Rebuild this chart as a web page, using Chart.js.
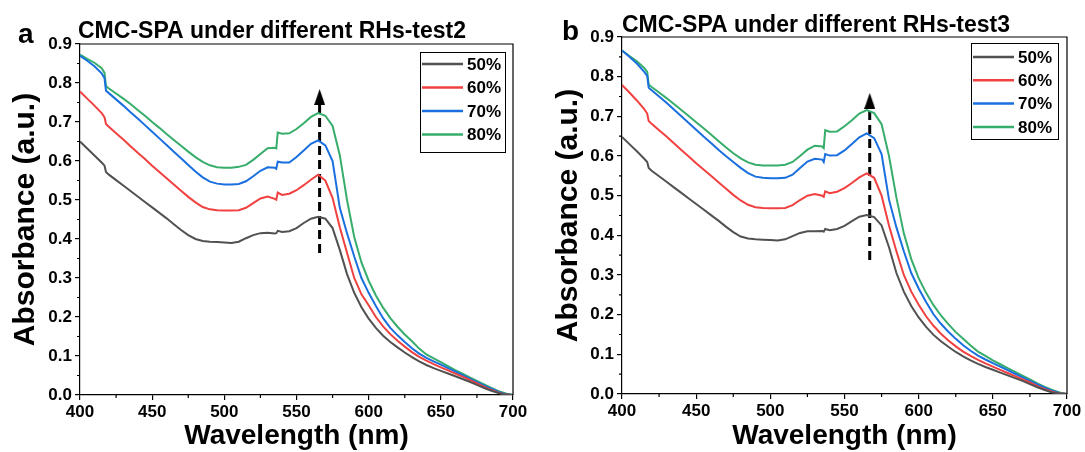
<!DOCTYPE html>
<html>
<head>
<meta charset="utf-8">
<title>CMC-SPA under different RHs</title>
<script src="https://cdn.jsdelivr.net/npm/chart.js@4.4.0/dist/chart.umd.min.js"></script>
<style>
  html, body { margin: 0; padding: 0; background: #fff; }
  #wrap { position: relative; width: 1085px; height: 452px; overflow: hidden; }
  #chartA { position: absolute; left: 0; top: 0; }
  #chartB { position: absolute; left: 545px; top: 0; }
</style>
</head>
<body>
<div id="wrap">
  <canvas id="chartA" width="545" height="452"></canvas>
  <canvas id="chartB" width="540" height="452"></canvas>
</div>
<script>
const wavelengths = [400, 405, 410, 415, 417, 418, 420, 425, 430, 435, 440, 445, 450, 455, 460, 465, 470, 475, 480, 485,
  490, 495, 500, 505, 510, 515, 520, 525, 530, 535, 536, 537, 540, 545, 550, 555, 560, 565, 570, 575, 580, 585, 590, 595,
  600, 605, 610, 615, 620, 625, 630, 635, 640, 645, 650, 655, 660, 665, 670, 675, 680, 685, 690, 695, 700];

const seriesLabels = ["50%", "60%", "70%", "80%"];
const seriesColors = ["#515151", "#f14040", "#1a6fdf", "#37ad6b"];

// test2 (panel a)
const test2_50 = [.650, .632, .614, .596, .588, .572, .565, .551, .537, .523, .509, .495, .481, .467, .453, .438, .423, .410, .400, .395,
  .393, .392, .391, .390, .393, .402, .410, .415, .416, .414, .415, .421, .418, .420, .428, .441, .452, .457, .452, .428, .372, .310, .262, .225,
  .196, .172, .152, .136, .122, .109, .097, .086, .077, .069, .062, .055, .048, .041, .034, .026, .018, .011, .005, .001, 0];
const test2_60 = [.778, .760, .742, .723, .712, .695, .688, .671, .655, .638, .621, .605, .588, .572, .556, .540, .524, .508, .494, .482,
  .476, .474, .473, .473, .474, .480, .492, .504, .509, .503, .501, .519, .513, .516, .525, .538, .552, .565, .550, .505, .430, .365, .300, .258,
  .230, .200, .176, .156, .139, .124, .110, .098, .088, .079, .071, .063, .055, .047, .039, .030, .021, .013, .006, .001, 0];
const test2_70 = [.870, .857, .843, .825, .812, .780, .774, .758, .742, .725, .709, .692, .675, .658, .641, .624, .607, .590, .573, .558,
  .547, .542, .540, .540, .541, .548, .561, .575, .584, .583, .580, .598, .596, .596, .610, .627, .644, .653, .640, .600, .480, .415, .355, .300,
  .262, .228, .197, .172, .153, .136, .120, .106, .095, .086, .078, .069, .060, .051, .042, .033, .024, .016, .008, .002, 0];
const test2_80 = [.873, .862, .852, .838, .826, .792, .786, .773, .760, .746, .731, .716, .700, .685, .669, .654, .639, .624, .610, .598,
  .589, .584, .583, .583, .585, .590, .603, .618, .633, .634, .632, .673, .670, .671, .682, .697, .713, .723, .716, .690, .615, .500, .405, .340,
  .293, .255, .224, .197, .175, .155, .138, .119, .104, .094, .084, .074, .064, .055, .045, .036, .027, .018, .010, .004, 0];

// test3 (panel b)
const test3_50 = [.648, .630, .612, .593, .585, .570, .563, .549, .535, .521, .507, .493, .479, .465, .451, .437, .422, .408, .397, .392,
  .390, .389, .388, .387, .390, .398, .406, .410, .410, .411, .409, .416, .413, .416, .424, .436, .447, .451, .446, .425, .370, .305, .258, .222,
  .193, .169, .149, .133, .119, .106, .095, .085, .076, .068, .061, .054, .047, .040, .033, .025, .017, .010, .004, .001, 0];
const test3_60 = [.779, .760, .740, .718, .707, .688, .681, .665, .649, .632, .615, .599, .582, .566, .550, .534, .518, .502, .488, .477,
  .471, .469, .468, .468, .469, .476, .489, .500, .504, .500, .497, .511, .506, .510, .519, .532, .546, .556, .545, .500, .425, .360, .300, .258,
  .225, .196, .172, .152, .135, .120, .107, .096, .086, .077, .069, .061, .053, .045, .037, .029, .020, .012, .006, .001, 0];
const test3_70 = [.866, .850, .833, .812, .802, .772, .766, .750, .734, .717, .700, .683, .666, .649, .633, .616, .600, .585, .570, .557,
  .548, .545, .544, .544, .545, .553, .570, .586, .593, .591, .585, .605, .601, .602, .614, .630, .647, .657, .645, .605, .490, .420, .360, .305,
  .266, .232, .201, .177, .157, .139, .123, .109, .097, .087, .078, .069, .060, .051, .042, .033, .024, .016, .008, .002, 0];
const test3_80 = [.866, .852, .839, .822, .812, .780, .774, .760, .746, .731, .716, .701, .685, .670, .654, .638, .622, .607, .594, .584,
  .578, .576, .576, .576, .578, .585, .600, .616, .626, .624, .620, .665, .661, .662, .675, .690, .707, .716, .708, .680, .600, .495, .405, .340,
  .292, .255, .224, .198, .176, .156, .139, .122, .107, .096, .085, .075, .065, .056, .046, .037, .027, .018, .010, .004, 0];

// dashed arrows: wavelength, bottom and top absorbance
const arrowTest2 = [566, 0.364, 0.764];
const arrowTest3 = [567, 0.338, 0.739];

const FONT = "'Liberation Sans', Arial, Helvetica, sans-serif";
Chart.defaults.font.family = FONT;
Chart.defaults.color = "#000";

// narrow arrow head used as the point style at the top of the arrow line
const arrowHead = document.createElement("canvas");
arrowHead.width = 11;
arrowHead.height = 16;
(function () {
  const c = arrowHead.getContext("2d");
  c.fillStyle = "#000";
  c.beginPath();
  c.moveTo(5.5, 0);
  c.lineTo(11, 16);
  c.lineTo(0, 16);
  c.closePath();
  c.fill();
})();

function toPoints(values) {
  return values.map((v, i) => ({ x: wavelengths[i], y: v }));
}

// top/right frame, minor ticks, legend box, panel letter and title
const framePlugin = {
  id: "frame",
  afterDraw(chart, args, opts) {
    const { ctx, chartArea: area, scales } = chart;
    ctx.save();
    ctx.strokeStyle = "#000";
    ctx.lineWidth = 1.2;
    ctx.beginPath();
    ctx.moveTo(area.left, area.top);
    ctx.lineTo(area.right, area.top);
    ctx.lineTo(area.right, area.bottom);
    ctx.stroke();

    ctx.beginPath();
    for (let v = 425; v < 700; v += 50) {
      const x = scales.x.getPixelForValue(v);
      ctx.moveTo(x, area.bottom);
      ctx.lineTo(x, area.bottom + 3);
    }
    for (let v = 0.05; v < 0.9; v += 0.1) {
      const y = scales.y.getPixelForValue(v);
      ctx.moveTo(area.left, y);
      ctx.lineTo(area.left - 3, y);
    }
    ctx.stroke();

    // legend
    const lg = opts.legend;
    const bx = area.right - lg.right - lg.width;
    const by = area.top + lg.top;
    ctx.lineWidth = 1;
    ctx.strokeRect(bx + 0.5, by + 0.5, lg.width, lg.height);
    ctx.font = "bold 17px " + FONT;
    ctx.textBaseline = "middle";
    ctx.textAlign = "left";
    seriesLabels.forEach((label, i) => {
      const y = by + lg.first + i * lg.step;
      ctx.strokeStyle = seriesColors[i];
      ctx.lineWidth = 2.5;
      ctx.beginPath();
      ctx.moveTo(bx + 2, y);
      ctx.lineTo(bx + 43, y);
      ctx.stroke();
      ctx.fillStyle = "#000";
      ctx.fillText(label, bx + 47, y + 1);
    });

    // panel letter + title
    ctx.textBaseline = "alphabetic";
    ctx.fillStyle = "#000";
    ctx.font = "bold 28px " + FONT;
    ctx.fillText(opts.letter, opts.letterX, opts.letterY);
    ctx.font = "bold 23px " + FONT;
    ctx.fillText(opts.title, opts.titleX, opts.titleY);
    ctx.restore();
  },
};

function makeChart(canvasId, series, arrow, layout) {
  const datasets = series.map((values, i) => ({
    label: seriesLabels[i],
    data: toPoints(values),
    borderColor: seriesColors[i],
    borderWidth: 2,
    pointRadius: 0,
    tension: 0,
  }));
  datasets.push({
    label: "arrow",
    data: [{ x: arrow[0], y: arrow[1] }, { x: arrow[0], y: arrow[2] }],
    borderColor: "#000",
    borderWidth: 3,
    borderDash: [9, 5],
    pointRadius: [0, 8],
    pointStyle: ["circle", arrowHead],
  });

  return new Chart(document.getElementById(canvasId), {
    type: "line",
    data: { datasets },
    options: {
      responsive: false,
      animation: false,
      layout: { padding: { left: 0, right: layout.padRight, top: layout.padTop, bottom: 0 } },
      plugins: {
        legend: { display: false },
        tooltip: { enabled: false },
        frame: layout.frame,
      },
      scales: {
        x: {
          type: "linear",
          min: 400,
          max: 700,
          afterFit: (s) => { s.height = layout.xHeight; },
          ticks: { stepSize: 50, padding: 2, font: { size: 17, weight: "bold" }, color: "#000" },
          grid: { drawOnChartArea: false, tickLength: 5, color: "#000", lineWidth: 1.2 },
          border: { color: "#000", width: 1.2 },
          title: {
            display: true,
            text: "Wavelength (nm)",
            font: { size: 28, weight: "bold", lineHeight: 1.1 },
            padding: { top: 0, bottom: 0 },
          },
        },
        y: {
          min: 0,
          max: 0.9,
          afterFit: (s) => { s.width = layout.yWidth; },
          ticks: {
            stepSize: 0.1,
            padding: 3,
            font: { size: 17, weight: "bold" },
            color: "#000",
            callback: (v) => v.toFixed(1),
          },
          grid: { drawOnChartArea: false, tickLength: 5, color: "#000", lineWidth: 1.2 },
          border: { color: "#000", width: 1.2 },
          title: {
            display: true,
            text: "Absorbance (a.u.)",
            font: { size: 30, weight: "bold", lineHeight: 1.2 },
            padding: { top: layout.yTitlePad, bottom: 0 },
          },
        },
      },
    },
    plugins: [framePlugin],
  });
}

makeChart("chartA", [test2_50, test2_60, test2_70, test2_80], arrowTest2, {
  padRight: 32, padTop: 44, xHeight: 57, yWidth: 80, yTitlePad: 8,
  frame: {
    letter: "a", letterX: 18, letterY: 43,
    title: "CMC-SPA under different RHs-test2", titleX: 78, titleY: 38,
    legend: { right: 8, top: 8, width: 85, height: 100, first: 12, step: 23.5 },
  },
});

makeChart("chartB", [test3_50, test3_60, test3_70, test3_80], arrowTest3, {
  padRight: 18, padTop: 37, xHeight: 58, yWidth: 77, yTitlePad: 6,
  frame: {
    letter: "b", letterX: 17, letterY: 40,
    title: "CMC-SPA under different RHs-test3", titleX: 77, titleY: 32,
    legend: { right: 9, top: 6, width: 87, height: 96, first: 14, step: 23.3 },
  },
});
</script>
</body>
</html>
